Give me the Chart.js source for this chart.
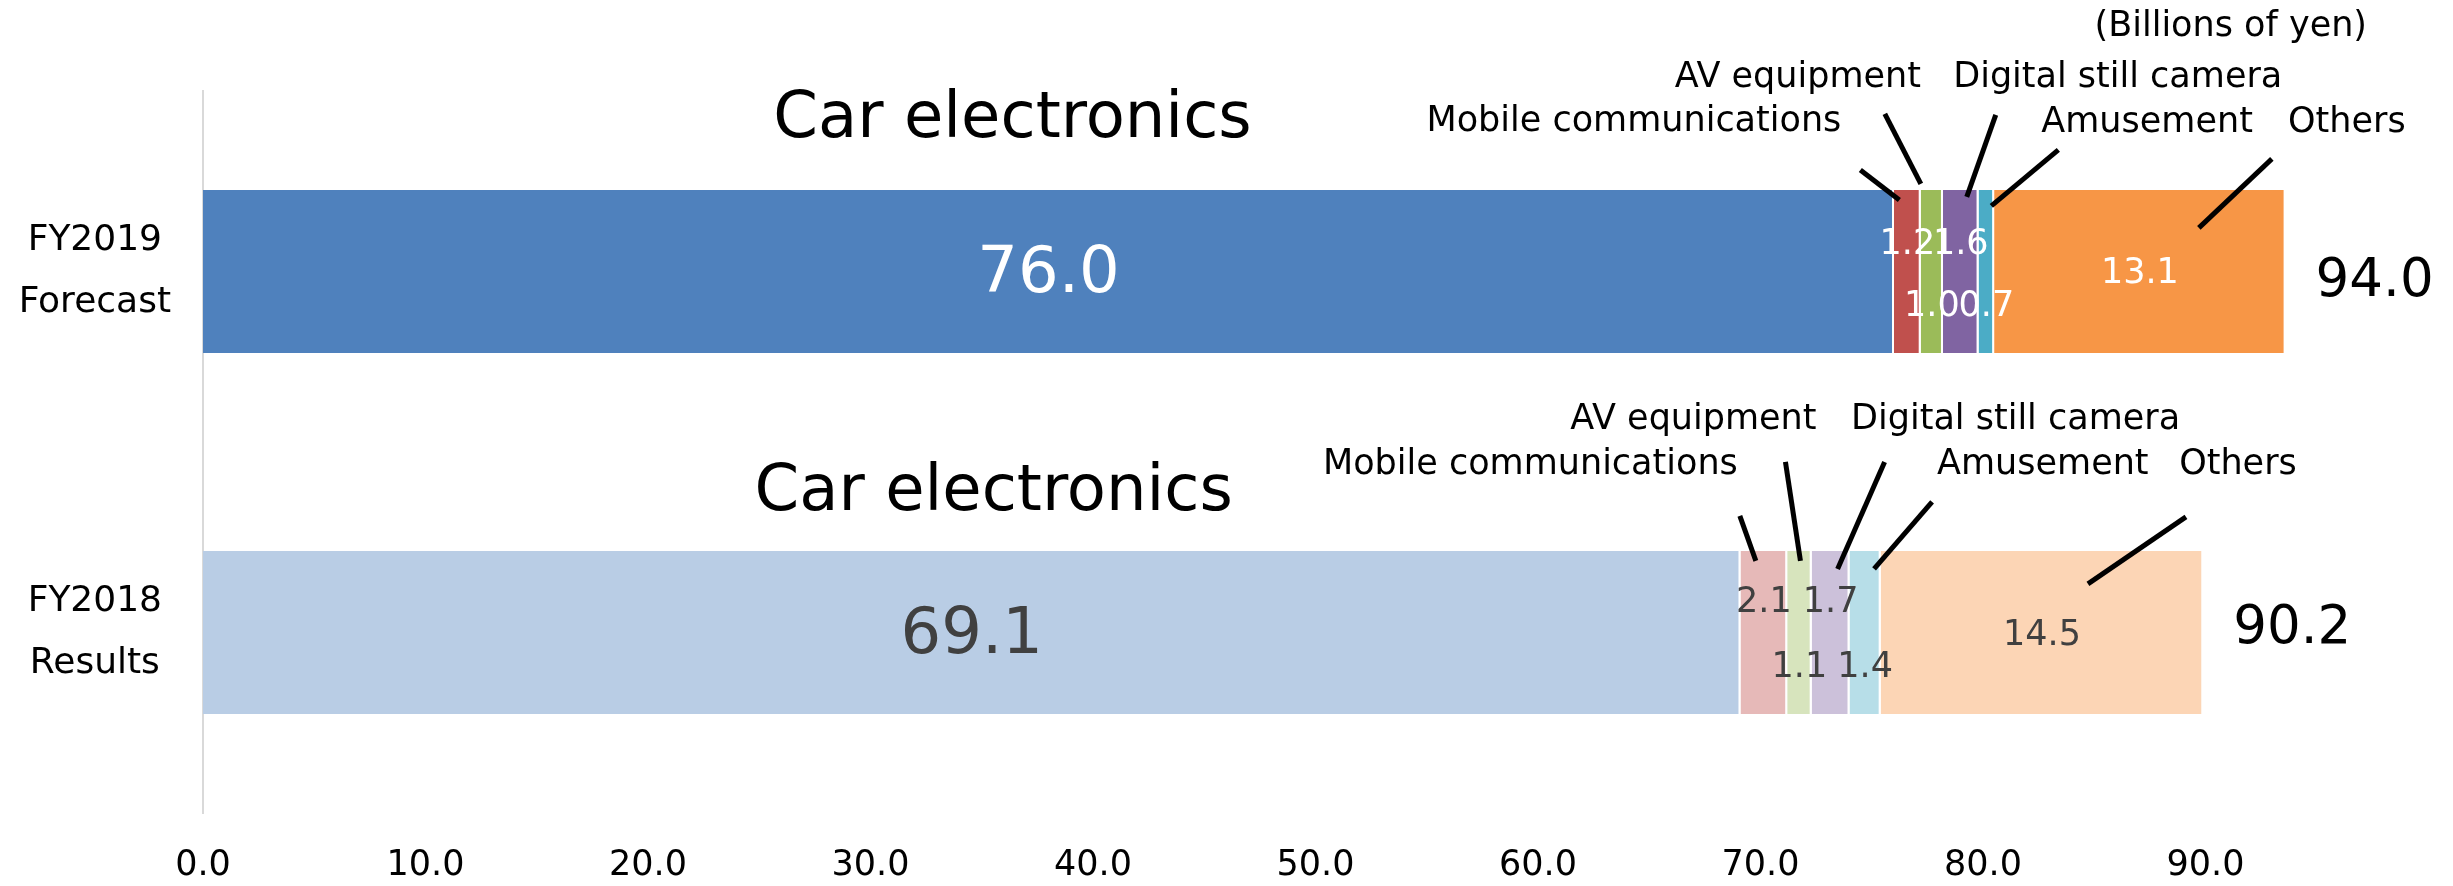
<!DOCTYPE html>
<html><head><meta charset="utf-8">
<script src="https://cdn.jsdelivr.net/npm/chart.js@4/dist/chart.umd.min.js"></script>
<style>html,body{margin:0;padding:0;background:#fff;}canvas{display:block;}</style>
</head><body>
<canvas id="c" width="2453" height="886"></canvas>
<script>
// ---------------- DATA ----------------
const categories = [['FY2019', 'Forecast'], ['FY2018', 'Results']];
const segmentNames = ['Car electronics', 'Mobile communications', 'AV equipment', 'Digital still camera', 'Amusement', 'Others'];
const carElectronics = [76.0, 69.1];
const mobileCommunications = [1.2, 2.1];
const avEquipment = [1.0, 1.1];
const digitalStillCamera = [1.6, 1.7];
const amusement = [0.7, 1.4];
const others = [13.1, 14.5];
const totals = [94.0, 90.2];
const xTickValues = [0, 10, 20, 30, 40, 50, 60, 70, 80, 90];
const unitLabel = '(Billions of yen)';

const seriesValues = [carElectronics, mobileCommunications, avEquipment, digitalStillCamera, amusement, others];

// ---------------- STYLE / LAYOUT ----------------
const FONT = '"DejaVu Sans", "Noto Sans", sans-serif';
const darkColors = ['#4F81BD', '#C0504D', '#9BBB59', '#8064A2', '#4BACC6', '#F79646'];
const lightColors = ['#B9CDE5', '#E6B9B8', '#D7E4BD', '#CCC1DA', '#B7DEE8', '#FCD5B5'];

const valueLabelStyle = [
  { color: '#FFFFFF', dy: [4, -27, 35, -27, 35, 2], size: [64, 35, 35, 35, 35, 35] },
  { color: '#404040', dy: [4, -30, 35, -30, 35, 3], size: [64, 35, 35, 35, 35, 35] }
];
const totalStyle = { dx: 30, dy: [11, -3], size: 53 };

// callout offsets relative to segment centre (x) and bar top (y)
const callouts = [
  [
    { tx: -36, ty: -70, align: 'center', size: 64 },
    { tx: -66, ty: -68, align: 'right', size: 35, line: [-47, -20, -8, 10] },
    { tx: -134, ty: -112, align: 'center', size: 35, line: [-47, -76, -11, -6] },
    { tx: 157, ty: -112, align: 'center', size: 35, line: [35, -75, 6, 7] },
    { tx: 55, ty: -67, align: 'left', size: 35, line: [72, -40, 5, 16] },
    { tx: 207, ty: -67, align: 'center', size: 35, line: [132, -31, 59, 38] }
  ],
  [
    { tx: 22, ty: -58, align: 'center', size: 64 },
    { tx: -26, ty: -86, align: 'right', size: 35, line: [-24, -35, -8, 10] },
    { tx: -106, ty: -131, align: 'center', size: 35, line: [-14, -89, 1, 10] },
    { tx: 185, ty: -131, align: 'center', size: 35, line: [54, -89, 7, 18] },
    { tx: 72, ty: -86, align: 'left', size: 35, line: [67, -49, 9, 18] },
    { tx: 196, ty: -86, align: 'center', size: 35, line: [144, -34, 46, 33] }
  ]
];

const annotationPlugin = {
  id: 'annotations',
  afterDatasetsDraw(chart) {
    const ctx = chart.ctx;
    ctx.save();
    ctx.textBaseline = 'middle';
    for (let b = 0; b < categories.length; b++) {
      for (let s = 0; s < seriesValues.length; s++) {
        const el = chart.getDatasetMeta(s).data[b];
        const p = el.getProps(['x', 'y', 'base', 'height'], true);
        const cx = (p.x + p.base) / 2;
        const top = p.y - p.height / 2;
        const vs = valueLabelStyle[b];
        ctx.fillStyle = vs.color;
        ctx.textAlign = 'center';
        ctx.font = vs.size[s] + 'px ' + FONT;
        ctx.fillText(seriesValues[s][b].toFixed(1), cx, p.y + vs.dy[s]);
        const c = callouts[b][s];
        if (c.line) {
          ctx.strokeStyle = '#000';
          ctx.lineWidth = 5;
          ctx.beginPath();
          ctx.moveTo(cx + c.line[0], top + c.line[1]);
          ctx.lineTo(cx + c.line[2], top + c.line[3]);
          ctx.stroke();
        }
        ctx.fillStyle = '#000';
        ctx.textAlign = c.align;
        ctx.font = c.size + 'px ' + FONT;
        ctx.fillText(segmentNames[s], cx + c.tx, top + c.ty);
      }
      const last = chart.getDatasetMeta(seriesValues.length - 1).data[b];
      const lp = last.getProps(['x', 'y'], true);
      ctx.fillStyle = '#000';
      ctx.textAlign = 'left';
      ctx.font = totalStyle.size + 'px ' + FONT;
      ctx.fillText(totals[b].toFixed(1), lp.x + totalStyle.dx, lp.y + totalStyle.dy[b]);
    }
    const area = chart.chartArea;
    ctx.fillStyle = '#000';
    ctx.textAlign = 'right';
    ctx.font = '35px ' + FONT;
    ctx.fillText(unitLabel, area.right - 61, area.top - 64);
    ctx.restore();
  }
};

new Chart(document.getElementById('c'), {
  type: 'bar',
  data: {
    labels: categories,
    datasets: seriesValues.map((vals, i) => ({
      label: segmentNames[i],
      data: vals,
      backgroundColor: [darkColors[i], lightColors[i]],
      borderColor: '#FFFFFF',
      borderWidth: { top: 0, bottom: 0, left: 0, right: 2 },
      borderSkipped: false,
      barPercentage: 0.452,
      categoryPercentage: 1
    }))
  },
  options: {
    indexAxis: 'y',
    responsive: false,
    animation: false,
    layout: { padding: { top: 91, right: 25, left: 0, bottom: 0 } },
    plugins: { legend: { display: false }, tooltip: { enabled: false } },
    scales: {
      x: {
        stacked: true, min: 0, max: 100,
        grid: { display: false, drawTicks: false },
        border: { display: false },
        afterBuildTicks: (s) => { s.ticks = xTickValues.map(v => ({ value: v })); },
        ticks: { font: { family: FONT, size: 35 }, color: '#000', padding: 32,
                 maxRotation: 0, autoSkip: false,
                 callback: (v) => Number(v).toFixed(1) },
        afterFit: (s) => { s.height = 73; }
      },
      y: {
        stacked: true,
        grid: { display: false, drawTicks: false },
        border: { display: true, color: '#D9D9D9', width: 2 },
        ticks: { crossAlign: 'center', padding: 32, color: '#000',
                 font: { family: FONT, size: 36, lineHeight: 1.72 } },
        afterFit: (s) => { s.width = 203; s.paddingTop = 0; s.paddingBottom = 0; }
      }
    }
  },
  plugins: [annotationPlugin]
});
</script>
</body></html>
